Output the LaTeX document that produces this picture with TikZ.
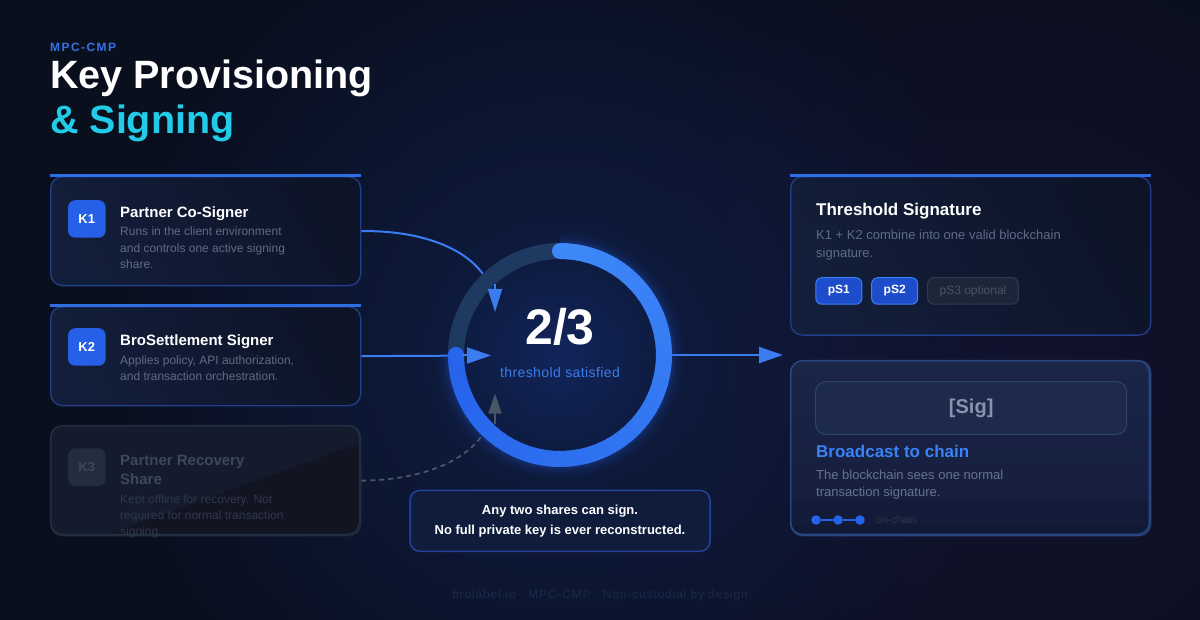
\documentclass[tikz,border=0pt]{standalone}
\usepackage{fontspec}
\setmainfont{Liberation Sans}
\newfontfamily\kickfont[LetterSpace=12]{Liberation Sans}
\newfontfamily\thrfont[LetterSpace=3]{Liberation Sans}
\newfontfamily\footfont[LetterSpace=7]{Liberation Sans}
\usetikzlibrary{arrows.meta,fadings}
\newcommand\myfs[2]{\fontsize{#1}{#2}\selectfont}

\definecolor{bg}{HTML}{0A0F1E}
\definecolor{bgglow}{HTML}{10204A}
\definecolor{purpleglow}{HTML}{1A1538}
\definecolor{cardA}{HTML}{131E3A}
\definecolor{cardB}{HTML}{0D1428}
\definecolor{cardline}{HTML}{213F8C}
\definecolor{topblue}{HTML}{2F6DE3}
\definecolor{badgeblue}{HTML}{2560E6}
\definecolor{descgray}{HTML}{5E6B87}
\definecolor{dimA}{HTML}{131B2C}
\definecolor{dimB}{HTML}{131422}
\definecolor{dimline}{HTML}{232D40}
\definecolor{dimbadge}{HTML}{232D3F}
\definecolor{dimtitle}{HTML}{3E485C}
\definecolor{dimdesc}{HTML}{2F384B}
\definecolor{flowblue}{HTML}{3B7CF0}
\definecolor{flowgray}{HTML}{4A5568}
\definecolor{track}{HTML}{1E3A60}
\definecolor{ringA}{HTML}{3E88F8}
\definecolor{ringB}{HTML}{2563EB}
\definecolor{innerA}{HTML}{12255A}
\definecolor{innerB}{HTML}{0E1C42}
\definecolor{kick}{HTML}{3472E6}
\definecolor{cyanT}{HTML}{22CCE8}
\definecolor{thrblue}{HTML}{3B7DEB}
\definecolor{pillfill}{HTML}{1E4CCB}
\definecolor{pillline}{HTML}{3B82F6}
\definecolor{pillthreefill}{HTML}{1C2638}
\definecolor{pillthreeline}{HTML}{2E3A4F}
\definecolor{pillthreetext}{HTML}{4A5568}
\definecolor{bcA}{HTML}{1A2548}
\definecolor{bcB}{HTML}{151D3C}
\definecolor{bcband}{HTML}{141A36}
\definecolor{bcline}{HTML}{294680}
\definecolor{sigfill}{HTML}{1D2A4B}
\definecolor{sigline}{HTML}{2A4370}
\definecolor{sigtext}{HTML}{8493AE}
\definecolor{bctitle}{HTML}{3B82F6}
\definecolor{bcdesc}{HTML}{66738F}
\definecolor{onchain}{HTML}{2A3650}
\definecolor{notefill}{HTML}{0F1C3C}
\definecolor{noteline}{HTML}{24449A}
\definecolor{footc}{HTML}{1A2A4A}

\tikzfading[name=softglow, inner color=transparent!0, outer color=transparent!100]

\begin{document}
\begin{tikzpicture}[x=1pt,y=-1pt,
  card/.style={rounded corners=12pt, draw=cardline, line width=1.3pt, left color=cardA, right color=cardB, shading angle=120, anchor=north west, inner sep=0pt, minimum width=310pt},
  dimcard/.style={rounded corners=12pt, draw=dimline, line width=1.3pt, fill=dimA, anchor=north west, inner sep=0pt, minimum width=310pt},
  topline/.style={draw=topblue, line width=3pt},
  badge/.style={rounded corners=7pt, fill=badgeblue, minimum size=37.5pt, inner sep=0pt, text=white, font=\myfs{13}{15}\bfseries},
  dimbadgest/.style={badge, fill=dimbadge, text=dimtitle},
  ttl/.style={anchor=base west, inner sep=0pt, text=white, align=left, font=\myfs{15}{18.3}\bfseries},
  desc/.style={anchor=base west, inner sep=0pt, align=left, text=descgray, font=\myfs{12}{16.5}},
  flow/.style={draw=flowblue, line width=2pt},
  dashflow/.style={draw=flowgray, line width=1.8pt, dash pattern=on 5pt off 4pt},
  tipbig/.style={-{Triangle[length=24pt,width=16pt]}},
  tipmid/.style={-{Triangle[length=23pt,width=14pt]}},
  pill/.style={rounded corners=6pt, fill=pillfill, draw=pillline, line width=1pt, minimum height=26.5pt, inner sep=0pt, text=white, font=\myfs{12}{14}\bfseries},
  dot/.style={circle, fill=ringB, minimum size=9.5pt, inner sep=0pt}
]
\useasboundingbox (0,0) rectangle (1200,620);
% background
\fill[bg] (0,0) rectangle (1200,620);
\fill[purpleglow, path fading=softglow, opacity=0.6] (1000,390) circle (460);
\fill[bgglow, path fading=softglow, opacity=0.9] (560,355) circle (460);

% title block
\node[anchor=base west, inner sep=0pt, text=kick, font=\kickfont\myfs{12}{14}\bfseries] (kicker) at (50,52) {MPC-CMP};
\node[anchor=base west, inner sep=0pt, text=white, font=\myfs{39.5}{45}\bfseries] (title1) at (50,88.3) {Key Provisioning};
\node[anchor=base west, inner sep=0pt, text=cyanT, font=\myfs{39.5}{45}\bfseries] (title2) at (50,133.3) {\&\ Signing};

% ring anchor node
\node[circle, minimum size=224pt, inner sep=0pt] (ring) at (560,355) {};

% left cards
\node[card, minimum height=109pt] (k1) at (50,176) {};
\draw[topline] (k1.north west) -- (k1.north east);
\node[badge] (b1) at (86.8,219) {K1};
\node[ttl] (t1) at (120,218) {Partner Co-Signer};
\node[desc] (d1) at (120,268.7) {Runs in the client environment\\and controls one active signing\\share.};

\node[card, minimum height=99pt] (k2) at (50,306) {};
\draw[topline] (k2.north west) -- (k2.north east);
\node[badge] (b2) at (86.8,347) {K2};
\node[ttl] (t2) at (120,346) {BroSettlement Signer};
\node[desc, font=\myfs{12}{16}] (d2) at (120,381) {Applies policy, API authorization,\\and transaction orchestration.};

\node[dimcard, minimum height=110pt] (k3) at (50,425) {};
\begin{scope}
\clip[rounded corners=12pt] (50.6,425.6) rectangle (359.4,534.4);
\fill[dimB] (103,536) -- (360,443) -- (360,536) -- cycle;
\end{scope}
\draw[dimline, line width=1.3pt, rounded corners=12pt] (50.6,425.6) rectangle (359.4,534.4);
\node[dimbadgest] (b3) at (86.8,467) {K3};
\node[ttl, text=dimtitle] (t3) at (120,484) {Partner Recovery\\Share};
\node[desc, text=dimdesc, font=\myfs{12}{16}] (d3) at (120,535) {Kept offline for recovery. Not\\required for normal transaction\\signing.};

% connectors (under the ring)
\coordinate (k1tip) at (495,312);
\coordinate (k1tb) at (495,284);
\coordinate (k2tip) at (491,355.5);
\coordinate (k2tb) at (462,355.5);
\coordinate (k3tip) at (495,393.5);
\coordinate (k3tb) at (495,424);
\coordinate (outtip) at (783,355);
\draw[flow] (k1.east) .. controls (430,230) and (495,255) .. (k1tip);
\draw[flow] (k2.east) -- (k2tip);
\draw[dashflow] (k3.east) .. controls (430,480) and (495,455) .. (k3tip);
\draw[flow, tipbig] (ring.east) -- (outtip);

% ring glow and body
\foreach \w/\o in {40/0.035, 32/0.05, 26/0.07, 21/0.1}{
  \draw[ringB, line width=\w pt, opacity=\o] (ring.center) ++(-90:104) arc (-90:180:104);
}
\shade[inner color=innerA, outer color=innerB] (ring.center) circle (96);
\draw[track, line width=16pt] (ring.center) ++(175:104) arc (175:275:104);
\foreach \i in {0,...,53}{
  \pgfmathsetmacro\aS{-90+5*\i}
  \pgfmathsetmacro\aE{min(-90+5*\i+5.6,180)}
  \pgfmathsetmacro\pc{100-100*\i/53}
  \draw[line width=16pt, color=ringA!\pc!ringB] (ring.center) ++(\aS:104) arc (\aS:\aE:104);
}
\fill[ringA] (ring.center) ++(-90:104) circle (8);
\fill[ringB!90!ringA] (ring.center) ++(180:104) circle (8);

% arrowheads on top of the ring
\draw[flow, tipmid] (k1tb) -- (k1tip);
\draw[flow, tipbig] (k2tb) -- (k2tip);
\draw[draw=flowgray, line width=1.8pt, -{Triangle[length=20pt,width=13pt]}] (k3tb) -- (k3tip);

\node[anchor=base, inner sep=0pt, text=white, font=\myfs{50}{56}\bfseries] (frac) at (560,345) {2/3};
\node[anchor=base, inner sep=0pt, text=thrblue, font=\thrfont\myfs{14}{16}] (thr) at (560,377.3) {threshold satisfied};

% threshold signature card
\node[card, minimum width=360pt, minimum height=158.5pt] (ts) at (790,176) {};
\draw[topline] (ts.north west) -- (ts.north east);
\node[ttl, font=\myfs{17}{20}\bfseries] (tst) at (816,216) {Threshold Signature};
\node[desc, font=\myfs{13}{18}] (tsd) at (816,257.3) {K1 + K2 combine into one valid blockchain\\signature.};
\node[pill, minimum width=46pt] (p1) at (838.8,291) {pS1};
\node[pill, minimum width=46pt] (p2) at (894.7,291) {pS2};
\node[pill, minimum width=90.6pt, fill=pillthreefill, draw=pillthreeline, text=pillthreetext, font=\myfs{12}{14}] (p3) at (973,291) {pS3 optional};

% broadcast card
\node[rounded corners=12pt, draw=bcline, line width=1.3pt, top color=bcA, bottom color=bcB, anchor=north west, inner sep=0pt, minimum width=360pt, minimum height=175pt] (bc) at (790,360) {};
\begin{scope}
\clip[rounded corners=12pt] (790.7,360.7) rectangle (1149.3,534.3);
\fill[bcband, opacity=0.6] (790,499) rectangle (1150,536);
\fill[bg, opacity=0.12] (790,525) rectangle (1150,536);
\end{scope}
\draw[bcline, line width=1.3pt, rounded corners=12pt] (790.7,360.7) rectangle (1149.3,534.3);
\node[rounded corners=10pt, fill=sigfill, draw=sigline, line width=1pt, minimum width=311pt, minimum height=52.6pt, inner sep=0pt, text=sigtext, font=\myfs{20}{24}\bfseries] (sig) at (971.2,408) {[Sig]};
\node[ttl, text=bctitle, font=\myfs{17}{20}\bfseries] (bct) at (816,457.7) {Broadcast to chain};
\node[desc, text=bcdesc, font=\myfs{13}{17.7}] (bcd) at (816,496.7) {The blockchain sees one normal\\transaction signature.};
\node[dot] (dot1) at (816,520) {};
\node[dot] (dot2) at (838,520) {};
\node[dot] (dot3) at (860,520) {};
\draw[ringB, line width=2pt] (dot1) -- (dot2) -- (dot3);
\node[anchor=base west, inner sep=0pt, text=onchain, font=\myfs{10.5}{12}] (onc) at (876,523.5) {on-chain};

% note box
\node[rounded corners=10pt, fill=notefill, draw=noteline, line width=1.5pt, minimum width=300pt, minimum height=61pt, inner sep=0pt, align=center, text=white, font=\myfs{13}{20}\bfseries] (note) at (560,520.8) {Any two shares can sign.\\No full private key is ever reconstructed.};

% footer
\node[anchor=base, inner sep=0pt, text=footc, font=\footfont\myfs{12}{14}] (foot) at (600,598) {brolabel.io · MPC-CMP · Non-custodial by design};
\end{tikzpicture}
\end{document}
